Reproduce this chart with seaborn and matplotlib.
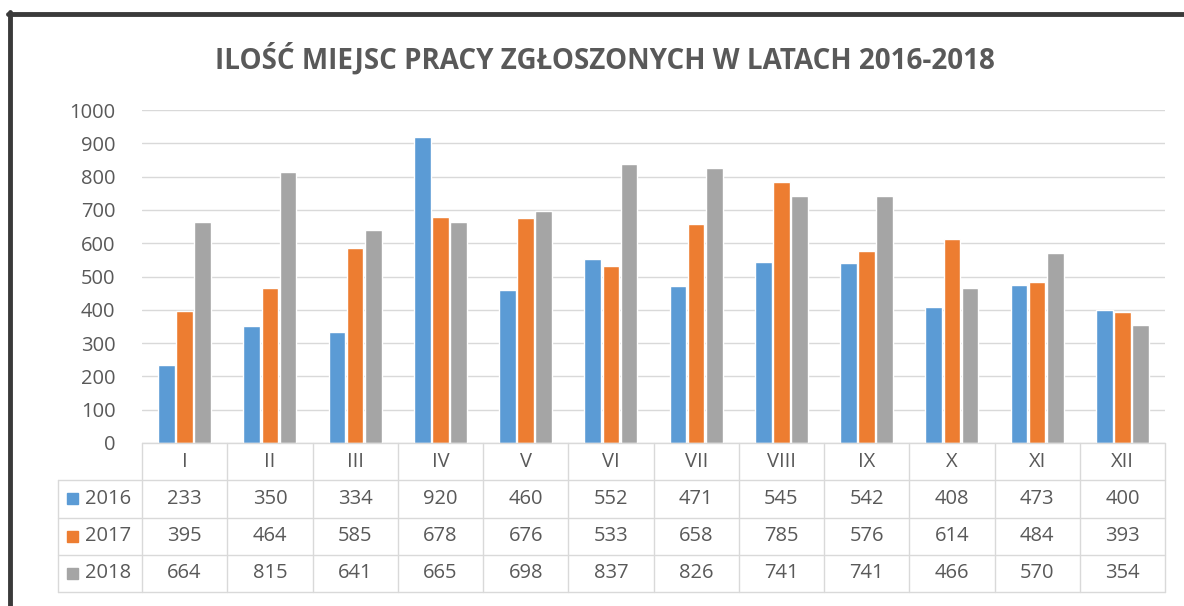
import matplotlib
matplotlib.use("Agg")
import matplotlib.pyplot as plt
from matplotlib.lines import Line2D
from matplotlib.patches import Rectangle
import seaborn as sns
import pandas as pd

months = ["I", "II", "III", "IV", "V", "VI", "VII", "VIII", "IX", "X", "XI", "XII"]
years = ["2016", "2017", "2018"]
v2016 = [233, 350, 334, 920, 460, 552, 471, 545, 542, 408, 473, 400]
v2017 = [395, 464, 585, 678, 676, 533, 658, 785, 576, 614, 484, 393]
v2018 = [664, 815, 641, 665, 698, 837, 826, 741, 741, 466, 570, 354]
yticks = [0, 100, 200, 300, 400, 500, 600, 700, 800, 900, 1000]
title = "ILOŚĆ MIEJSC PRACY ZGŁOSZONYCH W LATACH 2016-2018"
colors = ["#5B9BD5", "#ED7D31", "#A5A5A5"]
txt = "#595959"
grid = "#D9D9D9"

series = [v2016, v2017, v2018]
df = pd.DataFrame({
    "month": months * 3,
    "year": [y for y in years for _ in months],
    "value": v2016 + v2017 + v2018,
})

sns.set_theme(style="white")
plt.rcParams["font.family"] = ["Open Sans", "DejaVu Sans"]

W, H = 1184, 606
fig = plt.figure(figsize=(W / 100, H / 100), dpi=100)

def fx(px):
    return px / W

def fy(py):
    return 1 - py / H

FS = 14.5
L, R, T, B = 142, 1165, 110, 443
ax = fig.add_axes([fx(L), fy(B), fx(R) - fx(L), fy(T) - fy(B)])
sns.barplot(data=df, x="month", y="value", hue="year", order=months,
            hue_order=years, palette=colors, width=0.64, gap=0.08,
            saturation=1, ax=ax, legend=False)
ax.set_ylim(0, 1000)
ax.set_xlim(-0.5, 11.5)
ax.set_yticks(yticks)
ax.set_yticklabels([str(t) for t in yticks], color=txt, fontsize=FS)
ax.tick_params(axis="y", length=0, pad=19)
ax.set_xticks([])
ax.set_xlabel("")
ax.set_ylabel("")
for s in ax.spines.values():
    s.set_visible(False)
ax.grid(axis="y", color=grid, linewidth=1)
ax.set_axisbelow(True)

# data table
TL, TB = 58, 592
axt = fig.add_axes([fx(TL), fy(TB), fx(R) - fx(TL), fy(B) - fy(TB)])
unit = 12 / (R - L)
x0 = -0.5 - (L - TL) * unit
axt.set_xlim(x0, 11.5)
axt.set_ylim(4, 0)
axt.axis("off")
lw = 1
axt.plot([-0.5, 11.5], [0, 0], color=grid, lw=lw, clip_on=False)
for r in [1, 2, 3, 4]:
    axt.plot([x0, 11.5], [r, r], color=grid, lw=lw, clip_on=False)
for i in range(13):
    axt.plot([i - 0.5, i - 0.5], [0, 4], color=grid, lw=lw, clip_on=False)
axt.plot([x0, x0], [1, 4], color=grid, lw=lw, clip_on=False)
for i, m in enumerate(months):
    axt.text(i, 0.5, m, ha="center", va="center", color=txt, fontsize=FS)
for r, (yr, vals, c) in enumerate(zip(years, series, colors)):
    yy = r + 1.5
    axt.add_patch(Rectangle((x0 + 9 * unit, yy - 0.15), 11 * unit, 0.3,
                            color=c, clip_on=False))
    axt.text(x0 + 27 * unit, yy, yr, ha="left", va="center", color=txt, fontsize=FS)
    for i, v in enumerate(vals):
        axt.text(i, yy, str(v), ha="center", va="center", color=txt, fontsize=FS)

fig.text(fx(605), fy(59), title, ha="center", va="center", color=txt,
         fontsize=20, fontweight="bold")

# dark frame
fig.add_artist(Line2D([fx(8), fx(W)], [fy(14), fy(14)], color="#3A3A3A", lw=3.5))
fig.add_artist(Line2D([fx(10), fx(10)], [fy(12), fy(H)], color="#3A3A3A", lw=3.5))

fig.savefig("out.png", dpi=100)
